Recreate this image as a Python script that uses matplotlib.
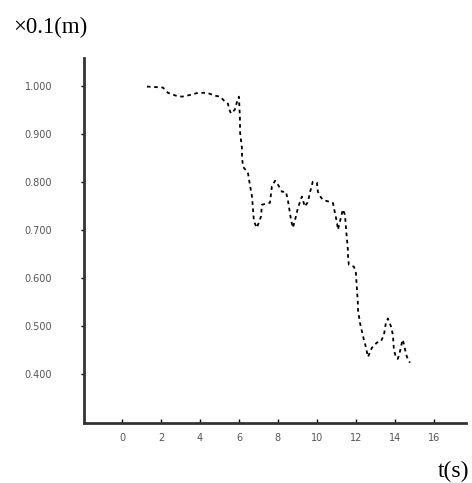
import numpy as np
import matplotlib
matplotlib.use('Agg')
import matplotlib.pyplot as plt

# dane
t = [1.28, 2.10, 2.36, 2.77, 3.08, 3.54, 3.90, 4.36, 4.77, 5.03, 5.28, 5.44, 5.49, 5.59, 5.79, 5.95, 6.00,
     6.05, 6.06, 6.15, 6.16, 6.21, 6.46, 6.56, 6.67, 6.77, 6.92, 7.13, 7.18, 7.59, 7.69, 7.85, 8.00, 8.21,
     8.41, 8.51, 8.67, 8.77, 8.92, 9.03, 9.23, 9.38, 9.54, 9.64, 9.79, 10.00, 10.05, 10.21, 10.31, 10.82,
     10.87, 11.03, 11.08, 11.23, 11.33, 11.44, 11.49, 11.59, 11.60, 11.64, 11.90, 12.00, 12.10, 12.11,
     12.21, 12.31, 12.41, 12.51, 12.62, 12.82, 13.08, 13.28, 13.44, 13.54, 13.64, 13.79, 13.90, 13.95,
     14.05, 14.15, 14.26, 14.36, 14.41, 14.56, 14.62, 14.77]
h = [0.998, 0.996, 0.985, 0.979, 0.977, 0.981, 0.985, 0.985, 0.979, 0.977, 0.967, 0.962, 0.952, 0.942,
     0.950, 0.973, 0.977, 0.933, 0.902, 0.871, 0.850, 0.831, 0.819, 0.794, 0.769, 0.717, 0.704, 0.727,
     0.752, 0.756, 0.790, 0.802, 0.794, 0.779, 0.779, 0.762, 0.721, 0.704, 0.727, 0.746, 0.769, 0.748,
     0.758, 0.777, 0.800, 0.798, 0.779, 0.767, 0.762, 0.756, 0.746, 0.715, 0.700, 0.725, 0.742, 0.731,
     0.704, 0.658, 0.642, 0.627, 0.623, 0.610, 0.548, 0.533, 0.506, 0.488, 0.471, 0.456, 0.435, 0.454,
     0.465, 0.467, 0.481, 0.506, 0.515, 0.500, 0.481, 0.450, 0.435, 0.431, 0.446, 0.465, 0.471, 0.444,
     0.435, 0.423]

xticks = [0, 2, 4, 6, 8, 10, 12, 14, 16]
yticks = [1.0, 0.9, 0.8, 0.7, 0.6, 0.5, 0.4]
ylabels = ['1.000', '0.900', '0.800', '0.700', '0.600', '0.500', '0.400']

fig = plt.figure(figsize=(4.72, 4.83), dpi=100)
ax = fig.add_axes([84 / 472, 1 - 423 / 483, (466 - 84) / 472, (423 - 58) / 483])

ax.plot(t, h, color='black', linestyle=(0, (2, 2)), linewidth=1.3)

ax.set_xlim(-1.95, 17.65)
ax.set_ylim(0.2975, 1.0575)

for s in ['top', 'right']:
    ax.spines[s].set_visible(False)
for s in ['left', 'bottom']:
    ax.spines[s].set_linewidth(2)
    ax.spines[s].set_color('#333333')

ax.set_xticks(xticks)
ax.set_xticklabels([str(v) for v in xticks], fontsize=7, color='#555555', family='DejaVu Sans')
ax.set_yticks(yticks)
ax.set_yticklabels(ylabels, fontsize=7, color='#555555', family='DejaVu Sans')
ax.tick_params(axis='x', direction='in', length=3, width=1, pad=7)
ax.tick_params(axis='y', direction='out', length=2, width=1, pad=21)

fig.text(13 / 472, 1 - 33 / 483, '×0.1(m)', fontsize=16.5, family='Liberation Serif')
fig.text(438 / 472, 1 - 477 / 483, 't(s)', fontsize=17, family='Liberation Serif')

fig.savefig('out.png', dpi=100)
